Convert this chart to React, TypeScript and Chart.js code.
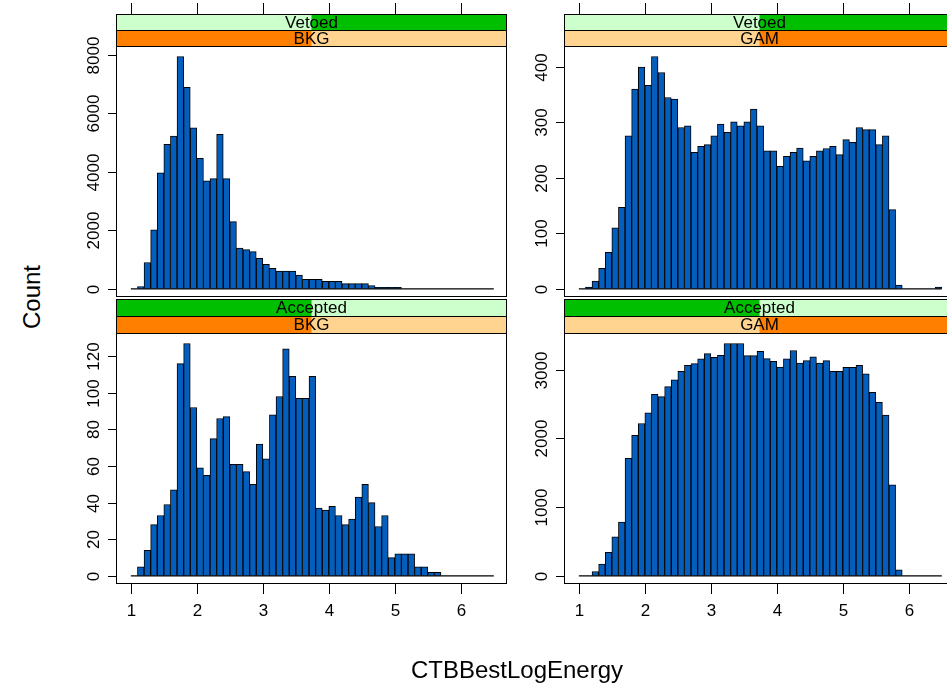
import React, { useEffect, useRef } from "react";
import { Chart, registerables } from "chart.js";

Chart.register(...registerables);

// ---------------- data ----------------
const BIN_START = 1.0;
const BIN_WIDTH = 0.1;
const X_MIN = 0.775;
const X_MAX = 6.7;
const X_TICKS = [1, 2, 3, 4, 5, 6];

const VETOED_BKG = [
  0, 80, 900, 2020, 3970, 4937, 5220, 7945, 6890, 5505,
  4460, 3690, 3770, 5280, 3770, 2300, 1396, 1339, 1271, 1040,
  840, 700, 610, 610, 610, 470, 330, 330, 330, 255,
  255, 255, 180, 180, 180, 180, 114, 55, 55, 55,
  55, 0, 0, 0, 0, 0, 0, 0, 0, 0,
  0, 0, 0, 0, 0,
];
const VETOED_GAM = [
  0, 3, 14, 37, 66, 110, 147, 276, 360, 400,
  367, 419, 390, 345, 342, 291, 294, 246, 257, 260,
  276, 297, 282, 301, 294, 301, 324, 294, 249, 249,
  221, 239, 246, 254, 231, 239, 249, 253, 257, 242,
  269, 264, 291, 287, 287, 260, 276, 143, 7, 0,
  0, 0, 0, 0, 3,
];
const ACCEPTED_BKG = [
  0, 5, 14, 28, 33, 39, 47, 116, 127, 92,
  59, 55, 75, 86, 87, 61, 61, 57, 50, 72,
  64, 88, 98, 124, 109, 97, 97, 109, 37, 36,
  38, 33, 28, 31, 43, 50, 40, 27, 33, 10,
  12, 12, 12, 5, 5, 2, 2, 0, 0, 0,
  0, 0, 0, 0, 0,
];
const ACCEPTED_GAM = [
  0, 0, 63, 170, 342, 567, 783, 1712, 2045, 2217,
  2373, 2643, 2608, 2755, 2853, 2975, 3063, 3088, 3157, 3235,
  3181, 3210, 3382, 3382, 3382, 3205, 3205, 3269, 3161, 3122,
  3040, 3157, 3279, 3098, 3132, 3186, 3098, 3132, 2975, 2975,
  3034, 3034, 3063, 2941, 2672, 2525, 2339, 1326, 88, 0,
  0, 0, 0, 0, 0,
];

const Y_TICKS_VETOED_BKG = [0, 2000, 4000, 6000, 8000];
const Y_TICKS_VETOED_GAM = [0, 100, 200, 300, 400];
const Y_TICKS_ACCEPTED_BKG = [0, 20, 40, 60, 80, 100, 120];
const Y_TICKS_ACCEPTED_GAM = [0, 1000, 2000, 3000];

const STATUS_LEVELS = ["Accepted", "Vetoed"];
const CLASS_LEVELS = ["BKG", "GAM"];
const X_TITLE = "CTBBestLogEnergy";
const Y_TITLE = "Count";

// ---------------- style / layout ----------------
const FONT = '"Liberation Sans", Arial, Helvetica, sans-serif';
const BAR_FILL = "#045EBD";
const GREEN_LIGHT = "#CCFFCC";
const GREEN_DARK = "#00BE00";
const ORANGE_LIGHT = "#FFD490";
const ORANGE_DARK = "#FF8000";

const COL_LEFT = [116, 564];
const PLOT_W = 391;
const ROW_TOP = [46, 333];
const ROW_BOTTOM = [297, 584];
const STRIP_H = [16, 17];
const CANVAS_TOP = [0, 298];
const CANVAS_H = [298, 387];
const PAD_LEFT = 56;
const CANVAS_W = 460;
const Y_PAD_LOW = 0.035;
const Y_PAD_HIGH = 0.045;

type PanelProps = {
  values: number[];
  yTicks: number[];
  status: string;
  cls: string;
  col: number;
  row: number;
};

function Panel({ values, yTicks, status, cls, col, row }: PanelProps) {
  const ref = useRef<HTMLCanvasElement>(null);

  useEffect(() => {
    const canvas = ref.current;
    if (!canvas) return;
    const maxV = Math.max(...values);
    const centers = values.map((_, i) => BIN_START + (i + 0.5) * BIN_WIDTH);
    const binEnd = BIN_START + values.length * BIN_WIDTH;

    const decor = {
      id: "latticeDecor",
      afterDraw(chart: any) {
        const { ctx, chartArea: a, scales } = chart;
        const xs = scales.x;
        const ys = scales.y;
        const sh = STRIP_H[row];
        const stripTop = a.top - 2 * sh;
        ctx.save();
        ctx.lineWidth = 1;
        ctx.strokeStyle = "#000";

        // strips
        const drawStrip = (
          y0: number,
          label: string,
          idx: number,
          n: number,
          light: string,
          dark: string
        ) => {
          ctx.fillStyle = light;
          ctx.fillRect(a.left, y0, a.right - a.left, sh);
          ctx.fillStyle = dark;
          ctx.fillRect(
            a.left + ((a.right - a.left) * idx) / n,
            y0,
            (a.right - a.left) / n,
            sh
          );
          ctx.strokeStyle = "#000";
          ctx.strokeRect(a.left + 0.5, y0 + 0.5, a.right - a.left - 1, sh);
          ctx.fillStyle = "#000";
          ctx.font = `17px ${FONT}`;
          ctx.textAlign = "center";
          ctx.textBaseline = "middle";
          ctx.fillText(label, (a.left + a.right) / 2, y0 + sh / 2 + 1);
        };
        drawStrip(
          stripTop,
          status,
          STATUS_LEVELS.indexOf(status),
          STATUS_LEVELS.length,
          GREEN_LIGHT,
          GREEN_DARK
        );
        drawStrip(
          stripTop + sh,
          cls,
          CLASS_LEVELS.indexOf(cls),
          CLASS_LEVELS.length,
          ORANGE_LIGHT,
          ORANGE_DARK
        );

        // frame
        ctx.strokeStyle = "#000";
        ctx.strokeRect(a.left + 0.5, a.top + 0.5, a.right - a.left - 1, a.bottom - a.top - 1);

        // y ticks and labels
        ctx.font = `17px ${FONT}`;
        ctx.fillStyle = "#000";
        for (const v of yTicks) {
          const py = Math.round(ys.getPixelForValue(v)) + 0.5;
          ctx.beginPath();
          ctx.moveTo(a.left - 8, py);
          ctx.lineTo(a.left, py);
          ctx.stroke();
          ctx.save();
          ctx.translate(a.left - 22, py);
          ctx.rotate(-Math.PI / 2);
          ctx.textAlign = "center";
          ctx.textBaseline = "middle";
          ctx.fillText(String(v), 0, 0);
          ctx.restore();
        }

        // x ticks
        for (const v of X_TICKS) {
          const px = Math.round(xs.getPixelForValue(v)) + 0.5;
          ctx.beginPath();
          if (row === 0) {
            ctx.moveTo(px, stripTop - 11);
            ctx.lineTo(px, stripTop);
          } else {
            ctx.moveTo(px, a.bottom);
            ctx.lineTo(px, a.bottom + 10);
          }
          ctx.stroke();
          if (row === 1) {
            ctx.textAlign = "center";
            ctx.textBaseline = "middle";
            ctx.fillText(String(v), px, a.bottom + 27);
          }
        }
        ctx.restore();
      },
    };

    const chart = new Chart(canvas, {
      type: "bar",
      data: {
        datasets: [
          {
            type: "bar",
            data: values.map((v, i) => ({ x: centers[i], y: v })),
            backgroundColor: BAR_FILL,
            borderColor: "#000",
            borderWidth: 1,
            borderSkipped: "start",
            barPercentage: 1,
            categoryPercentage: 1,
            order: 1,
          } as any,
          {
            type: "line",
            data: [
              { x: BIN_START, y: 0 },
              { x: binEnd, y: 0 },
            ],
            borderColor: "#000",
            borderWidth: 1.3,
            pointRadius: 0,
            fill: false,
            order: 0,
          } as any,
        ],
      },
      options: {
        animation: false,
        responsive: false,
        maintainAspectRatio: false,
        events: [],
        layout: {
          padding: {
            left: PAD_LEFT,
            right: CANVAS_W - PAD_LEFT - PLOT_W,
            top: ROW_TOP[row] - CANVAS_TOP[row],
            bottom: CANVAS_H[row] - (ROW_BOTTOM[row] - CANVAS_TOP[row]),
          },
        },
        plugins: {
          legend: { display: false },
          tooltip: { enabled: false },
        },
        scales: {
          x: {
            type: "linear",
            min: X_MIN,
            max: X_MAX,
            offset: false,
            display: false,
          },
          y: {
            type: "linear",
            min: -Y_PAD_LOW * maxV,
            max: (1 + Y_PAD_HIGH) * maxV,
            display: false,
          },
        },
      } as any,
      plugins: [decor],
    });
    return () => chart.destroy();
  }, [values, yTicks, status, cls, col, row]);

  return (
    <canvas
      ref={ref}
      width={CANVAS_W}
      height={CANVAS_H[row]}
      style={{
        position: "absolute",
        left: COL_LEFT[col] - PAD_LEFT,
        top: CANVAS_TOP[row],
        width: CANVAS_W,
        height: CANVAS_H[row],
      }}
    />
  );
}

export default function App() {
  return (
    <div
      style={{
        position: "absolute",
        left: 0,
        top: 0,
        width: 947,
        height: 685,
        overflow: "hidden",
        background: "#fff",
        fontFamily: FONT,
      }}
    >
      <Panel values={VETOED_BKG} yTicks={Y_TICKS_VETOED_BKG} status="Vetoed" cls="BKG" col={0} row={0} />
      <Panel values={VETOED_GAM} yTicks={Y_TICKS_VETOED_GAM} status="Vetoed" cls="GAM" col={1} row={0} />
      <Panel values={ACCEPTED_BKG} yTicks={Y_TICKS_ACCEPTED_BKG} status="Accepted" cls="BKG" col={0} row={1} />
      <Panel values={ACCEPTED_GAM} yTicks={Y_TICKS_ACCEPTED_GAM} status="Accepted" cls="GAM" col={1} row={1} />
      <div
        style={{
          position: "absolute",
          left: 32,
          top: 297,
          transform: "translate(-50%, -50%) rotate(-90deg)",
          fontSize: 24,
          whiteSpace: "nowrap",
          color: "#000",
        }}
      >
        {Y_TITLE}
      </div>
      <div
        style={{
          position: "absolute",
          left: 517,
          top: 670,
          transform: "translate(-50%, -50%)",
          fontSize: 24,
          whiteSpace: "nowrap",
          color: "#000",
        }}
      >
        {X_TITLE}
      </div>
    </div>
  );
}
